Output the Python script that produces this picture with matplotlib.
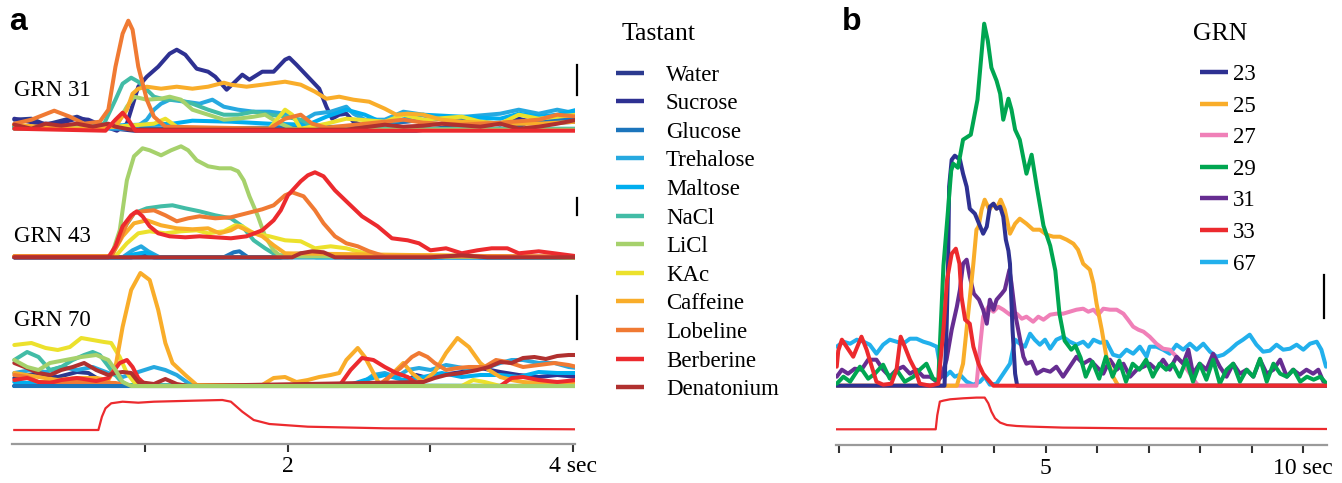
import numpy as np
import matplotlib
matplotlib.use("Agg")
import matplotlib.pyplot as plt
from matplotlib.lines import Line2D

plt.rcParams['font.family'] = ['Liberation Serif', 'DejaVu Serif']

# ---------------- Panel a data ----------------
tastants = ['Water', 'Sucrose', 'Glucose', 'Trehalose', 'Maltose', 'NaCl', 'LiCl',
            'KAc', 'Caffeine', 'Lobeline', 'Berberine', 'Denatonium']
tastant_colors = ['#2b3a8f', '#2e3192', '#1c75bc', '#26a9e0', '#00aeef', '#42bca6',
                  '#a6d16c', '#ece12c', '#f9ad2a', '#f07a33', '#ec2a2e', '#b0302f']
grn_a_labels = ['GRN 31', 'GRN 43', 'GRN 70']
scale_a = [30, 17, 43]          # scale-bar length (response units) per GRN

# responses: (time s, response a.u.)
grn31 = {
    'Water': ([0.08, 0.20, 0.30, 0.52, 0.66, 0.79, 0.92, 2.90, 3.22, 3.49, 3.62, 3.76, 3.89, 4.03],
              [11, 12, 6, 14, 6, 2, 0, 0, 5, 7, 4, 14, 9, 11]),
    'Sucrose': ([0.08, 0.25, 0.385, 0.52, 0.60, 0.68, 0.80, 0.87, 0.95, 1.01, 1.09, 1.17, 1.22, 1.28, 1.36,
                 1.44, 1.49, 1.57, 1.63, 1.68, 1.73, 1.82, 1.90, 1.98, 2.01, 2.06, 2.14, 2.22, 2.27, 2.31,
                 2.36, 2.41, 2.46, 2.54, 2.68, 2.95, 3.08, 3.22, 3.49, 3.62, 3.76, 4.03],
                [12, 7, 7, 12, 11, 6, 0, 7, 44, 54, 64, 77, 81, 76, 62, 59, 54, 41, 49, 56, 51, 59, 59, 71,
                 73, 66, 54, 42, 24, 12, 16, 17, 9, 4, 7, 11, 14, 11, 6, 12, 7, 9]),
    'Glucose': ([0.08, 1.33, 2.41, 2.68, 2.81, 3.08, 3.22, 3.49, 3.76, 4.03],
                [4, 2, 4, 6, 9, 12, 11, 7, 9, 12]),
    'Trehalose': ([0.08, 0.79, 0.92, 1.01, 1.06, 1.11, 1.17, 1.28, 1.38, 1.47, 1.55, 1.65, 1.76, 1.87, 1.98,
                   2.09, 2.19, 2.30, 2.41, 2.46, 2.54, 2.68, 2.81, 2.95, 3.08, 3.49, 3.62, 3.76, 3.89, 4.03],
                  [4, 2, 2, 11, 21, 27, 31, 29, 27, 31, 24, 21, 19, 19, 17, 9, 17, 19, 24, 17, 11, 11, 19, 16,
                   12, 17, 21, 17, 21, 17]),
    'Maltose': ([0.08, 1.19, 1.33, 1.60, 1.87, 2.14, 2.27, 2.41, 2.54, 2.68, 2.95, 3.22, 3.49, 3.62, 3.76,
                 3.89, 4.03],
                [2, 7, 10, 9, 7, 6, 14, 21, 16, 7, 16, 14, 12, 17, 14, 16, 21]),
    'NaCl': ([0.08, 0.25, 0.52, 0.71, 0.79, 0.84, 0.90, 0.95, 1.01, 1.06, 1.14, 1.22, 1.33, 1.44, 1.55,
              1.65, 1.76, 1.87, 1.98, 2.09, 2.19, 2.41, 4.03],
             [4, 2, 4, 7, 31, 47, 53, 49, 41, 34, 31, 31, 27, 21, 16, 16, 19, 16, 14, 11, 4, 2, 2]),
    'LiCl': ([0.08, 0.79, 0.87, 0.92, 1.01, 1.11, 1.17, 1.25, 1.33, 1.44, 1.55, 1.65, 1.76, 1.84, 1.92,
              2.03, 2.14, 4.03],
             [2, 4, 24, 34, 31, 32, 34, 31, 21, 16, 11, 12, 14, 16, 9, 2, 1, 1]),
    'KAc': ([0.08, 0.25, 0.52, 0.79, 1.06, 1.14, 1.22, 1.33, 1.87, 1.98, 2.03, 2.09, 2.27, 2.41, 2.68,
             2.81, 2.95, 3.22, 3.35, 3.49, 3.62, 3.76, 3.89, 4.03],
            [6, 2, 2, 4, 7, 12, 4, 2, 2, 21, 16, 2, 7, 12, 9, 16, 11, 14, 9, 7, 16, 12, 14, 16]),
    'Caffeine': ([0.08, 0.25, 0.52, 0.79, 0.87, 0.91, 0.95, 1.01, 1.11, 1.22, 1.33, 1.44, 1.55, 1.60, 1.71,
                  1.82, 1.98, 2.09, 2.19, 2.27, 2.36, 2.46, 2.57, 2.68, 2.76, 2.84, 2.95, 3.08, 3.22, 3.49,
                  3.76, 4.03],
                 [6, 4, 2, 4, 21, 37, 42, 44, 42, 44, 42, 44, 48, 46, 44, 46, 49, 46, 39, 32, 34, 31, 29, 22,
                  16, 17, 16, 11, 9, 7, 7, 9]),
    'Lobeline': ([0.08, 0.20, 0.36, 0.47, 0.57, 0.68, 0.74, 0.79, 0.84, 0.88, 0.91, 0.95, 1.01, 1.06, 1.14,
                  1.87, 1.98, 2.09, 2.17, 2.27, 2.68, 2.81, 2.95, 3.22, 3.49, 3.76, 3.89, 4.03],
                 [7, 11, 20, 14, 7, 9, 21, 64, 97, 110, 101, 64, 31, 14, 4, 2, 12, 16, 7, 3, 9, 11, 8, 6, 8,
                  11, 16, 14]),
    'Berberine': ([0.08, 0.72, 0.79, 0.84, 0.88, 0.93, 4.03],
                  [2, 0, 11, 18, 11, 0, 0]),
    'Denatonium': ([0.08, 0.20, 0.30, 0.41, 0.52, 0.63, 0.74, 0.79, 0.90, 2.41, 2.68, 2.81, 2.95, 3.08,
                    3.35, 3.49, 3.62, 3.76, 3.89, 4.03],
                   [6, 2, 7, 5, 7, 4, 7, 4, 1, 1, 6, 4, 5, 7, 4, 7, 2, 4, 7, 11]),
}

grn43 = {
    'Water': ([0.08, 1.95, 2.06, 2.14, 2.27, 2.41, 3.08, 3.22, 3.35, 4.03],
              [0, 0, 2, 4, 2, 0, 0, 2, 0, 0]),
    'Sucrose': ([0.08, 0.90, 0.98, 1.06, 1.95, 2.00, 2.14, 2.30, 2.50, 4.03],
                [0, 0, 2, 0, 0, 3, 4, 2, 0, 0]),
    'Glucose': ([0.08, 1.55, 1.62, 1.66, 1.72, 4.03],
                [0, 0, 5, 6, 0, 0]),
    'Trehalose': ([0.08, 0.84, 0.91, 0.97, 1.02, 1.10, 4.03],
                  [0, 0, 7, 11, 6, 0, 0]),
    'Maltose': ([0.08, 0.84, 0.92, 1.00, 1.08, 2.00, 2.10, 2.20, 4.03],
                [0, 0, 3, 5, 0, 0, 2, 0, 0]),
    'NaCl': ([0.08, 0.76, 0.84, 0.92, 1.01, 1.11, 1.19, 1.28, 1.38, 1.49, 1.60, 1.68, 1.76, 1.84, 1.92, 4.03],
             [1, 1, 27, 44, 49, 51, 52, 49, 46, 42, 39, 31, 17, 9, 2, 0]),
    'LiCl': ([0.08, 0.76, 0.82, 0.87, 0.92, 0.98, 1.03, 1.11, 1.18, 1.25, 1.30, 1.36, 1.44, 1.52, 1.60,
              1.65, 1.69, 1.73, 1.79, 1.84, 1.90, 1.95, 4.03],
             [1, 1, 27, 77, 101, 109, 107, 102, 107, 111, 107, 97, 91, 89, 89, 86, 77, 61, 41, 21, 7, 1, 0]),
    'KAc': ([0.08, 0.79, 0.87, 0.95, 1.03, 1.14, 1.25, 1.36, 1.44, 1.55, 1.63, 1.68, 1.76, 1.87, 1.98,
             2.09, 2.19, 2.30, 2.41, 2.54, 2.68, 2.95, 3.49, 4.03],
            [1, 1, 14, 24, 26, 24, 26, 27, 24, 26, 32, 31, 24, 21, 17, 16, 9, 11, 9, 4, 1, 2, 1, 0]),
    'Caffeine': ([0.08, 0.76, 0.84, 0.92, 1.01, 1.11, 1.22, 1.33, 1.44, 1.52, 1.60, 1.65, 1.73, 1.82, 1.90,
                  1.98, 4.03],
                 [1, 1, 21, 34, 37, 32, 29, 28, 29, 24, 27, 31, 26, 21, 12, 4, 0]),
    'Lobeline': ([0.08, 0.76, 0.82, 0.87, 0.92, 0.98, 1.06, 1.14, 1.22, 1.30, 1.38, 1.49, 1.60, 1.71, 1.82,
                  1.90, 1.98, 2.03, 2.11, 2.19, 2.25, 2.33, 2.41, 2.49, 2.57, 2.68, 4.03],
                 [1, 1, 17, 34, 44, 46, 47, 42, 36, 39, 41, 39, 40, 44, 48, 52, 62, 65, 61, 47, 34, 21, 14,
                  11, 6, 1, 1]),
    'Berberine': ([0.08, 0.74, 0.79, 0.84, 0.90, 0.94, 0.98, 1.03, 1.09, 1.17, 1.28, 1.38, 1.49, 1.60,
                   1.71, 1.82, 1.90, 1.95, 2.00, 2.09, 2.14, 2.19, 2.25, 2.33, 2.41, 2.52, 2.63, 2.73, 2.84,
                   2.92, 3.00, 3.11, 3.22, 3.33, 3.43, 3.54, 3.62, 3.76, 3.87, 4.03],
                  [0, 0, 11, 31, 42, 46, 41, 31, 24, 21, 20, 21, 20, 19, 21, 27, 37, 47, 62, 76, 82, 85, 81,
                   67, 56, 41, 31, 19, 17, 14, 7, 9, 4, 7, 9, 9, 4, 6, 4, 1]),
    'Denatonium': ([0.08, 2.03, 2.09, 2.17, 2.25, 2.33, 3.00, 3.22, 3.40, 4.03],
                   [0, 0, 4, 6, 5, 0, 0, 2, 0, 0]),
}

grn70 = {
    'Water': ([0.08, 0.25, 0.385, 0.52, 0.60, 0.68, 0.76, 4.03],
              [8, 13, 9, 14, 13, 6, 0, 0]),
    'Sucrose': ([0.08, 2.76, 2.81, 2.90, 2.98, 3.08, 3.22, 3.35, 3.49, 3.62, 3.76, 3.89, 4.03],
                [0, 0, 3, 11, 8, 11, 14, 18, 14, 11, 9, 11, 9]),
    'Glucose': ([0.08, 4.03], [0, 0]),
    'Trehalose': ([0.08, 0.20, 0.30, 0.41, 0.52, 0.63, 0.74, 0.84, 0.95, 1.06, 1.14, 1.22, 1.30, 1.38,
                   2.41, 2.52, 2.60, 2.68, 2.76, 2.84, 2.92, 3.00, 3.11, 3.19, 3.30, 3.41, 3.49, 3.57, 3.65,
                   3.76, 3.87, 3.97, 4.03],
                  [13, 16, 14, 19, 16, 19, 13, 9, 14, 19, 16, 11, 3, 0, 0, 3, 11, 13, 9, 16, 18, 16, 21, 19,
                   16, 19, 23, 26, 26, 23, 23, 19, 18]),
    'Maltose': ([0.08, 0.30, 0.60, 0.90, 2.41, 2.54, 2.68, 2.81, 2.95, 3.08, 3.22, 3.35, 3.49, 3.62, 3.76,
                 3.89, 4.03],
                [4, 2, 3, 0, 0, 6, 11, 6, 9, 13, 9, 11, 11, 9, 14, 13, 13]),
    'NaCl': ([0.08, 0.17, 0.25, 0.33, 0.41, 0.49, 0.57, 0.63, 0.68, 0.76, 0.82, 0.87, 4.03],
             [26, 34, 29, 16, 19, 26, 31, 34, 31, 16, 6, 1, 0]),
    'LiCl': ([0.08, 0.17, 0.25, 0.33, 0.44, 0.55, 0.655, 0.74, 0.79, 0.84, 0.90, 4.03],
             [26, 19, 16, 23, 26, 29, 31, 26, 16, 4, 0, 0]),
    'KAc': ([0.08, 0.20, 0.30, 0.385, 0.47, 0.55, 0.63, 0.71, 0.76, 0.82, 0.87, 0.92, 0.98, 3.22, 3.30,
             3.38, 3.49, 4.03],
            [41, 43, 38, 36, 39, 48, 46, 44, 43, 29, 13, 4, 0, 0, 6, 4, 0, 0]),
    'Caffeine': ([0.08, 0.25, 0.385, 0.52, 0.655, 0.74, 0.79, 0.84, 0.90, 0.965, 1.03, 1.09, 1.14, 1.19,
                  1.28, 1.36, 1.82, 1.90, 1.98, 2.06, 2.14, 2.22, 2.30, 2.36, 2.41, 2.49, 2.54, 2.60, 2.65,
                  2.76, 2.81, 2.87, 2.95, 3.03, 3.11, 3.19, 3.27, 3.35, 3.41, 3.49, 3.57, 3.65, 3.76, 4.03],
                 [13, 9, 6, 8, 8, 6, 19, 59, 96, 113, 106, 76, 43, 23, 11, 1, 1, 8, 9, 4, 6, 9, 11, 13, 26,
                  38, 29, 13, 0, 16, 23, 13, 4, 14, 33, 48, 39, 23, 16, 9, 6, 4, 3, 3]),
    'Lobeline': ([0.08, 0.17, 0.25, 0.52, 0.79, 0.90, 2.63, 2.71, 2.79, 2.87, 2.92, 2.98, 3.03, 3.11, 3.19,
                  3.27, 3.38, 3.46, 3.54, 3.65, 3.76, 3.87, 3.97, 4.03],
                 [11, 9, 4, 4, 3, 0, 0, 9, 18, 29, 33, 29, 23, 16, 18, 19, 19, 26, 24, 19, 21, 23, 21, 19]),
    'Berberine': ([0.08, 0.17, 0.25, 0.33, 0.41, 0.52, 0.655, 0.74, 0.82, 0.87, 0.91, 0.95, 1.01, 2.36,
                   2.44, 2.52, 2.60, 2.68, 2.76, 2.84, 2.90, 2.95, 3.49, 3.57, 3.65, 3.76, 3.89, 4.03],
                  [6, 8, 4, 3, 6, 8, 5, 8, 23, 26, 19, 8, 0, 0, 16, 28, 26, 19, 13, 9, 3, 0, 0, 8, 9, 6, 4, 6]),
    'Denatonium': ([0.08, 0.17, 0.25, 0.33, 0.41, 0.49, 0.57, 0.655, 0.74, 0.79, 0.84, 0.90, 0.95, 1.06,
                    1.14, 1.22, 1.30, 2.95, 3.03, 3.11, 3.22, 3.33, 3.41, 3.49, 3.57, 3.65, 3.73, 3.81,
                    3.89, 3.97, 4.03],
                   [23, 18, 13, 11, 16, 19, 23, 16, 11, 13, 14, 13, 4, 2, 7, 2, 0, 4, 8, 11, 13, 16, 19, 24,
                    23, 28, 29, 27, 30, 31, 31]),
}

# drawing order (last on top) for each GRN
order31 = ['Water', 'Sucrose', 'Glucose', 'Trehalose', 'Maltose', 'NaCl', 'LiCl', 'KAc', 'Caffeine',
           'Lobeline', 'Denatonium', 'Berberine']
order43 = list(tastants)
order70 = ['Water', 'Sucrose', 'Trehalose', 'Maltose', 'NaCl', 'KAc', 'Caffeine', 'Lobeline',
           'Berberine', 'Denatonium', 'Glucose', 'LiCl']

stim_a_t = [0.08, 0.67, 0.695, 0.72, 0.76, 0.84, 0.95, 1.06, 1.33, 1.54, 1.60, 1.68, 1.76, 1.87, 2.00,
            2.14, 2.68, 4.03]
stim_a_v = [0, 0, 13.3, 21.7, 26.7, 28.3, 27.3, 28.3, 29.3, 30, 28.3, 18.3, 10, 6, 4.7, 3.3, 1.7, 0.7]

# ---------------- Panel b data ----------------
grn_b = ['23', '25', '27', '29', '31', '33', '67']
grn_b_colors = ['#2e3192', '#f9ad2a', '#f080b8', '#00a651', '#662d91', '#ec2a2e', '#22b0ec']
scale_b = 43

b23_t = [0.95, 3.04, 3.08, 3.11, 3.13, 3.18, 3.24, 3.34, 3.40, 3.47, 3.53, 3.63, 3.71, 3.79, 3.86, 3.92,
         3.99, 4.05, 4.12, 4.18, 4.23, 4.28, 4.31, 4.36, 4.41, 4.45, 10.45]
b23_v = [0, 0, 56, 122, 199, 226, 230, 226, 212, 199, 177, 172, 162, 152, 159, 179, 182, 177, 179, 169,
         146, 135, 122, 56, 12, 0, 0]
b25_t = [0.95, 3.28, 3.40, 3.50, 3.60, 3.66, 3.70, 3.76, 3.82, 3.91, 3.99, 4.05, 4.13, 4.21, 4.31, 4.41,
         4.50, 4.63, 4.76, 4.89, 5.02, 5.15, 5.28, 5.41, 5.54, 5.63, 5.73, 5.86, 5.93, 5.99, 6.09, 6.18,
         6.31, 6.41, 10.45]
b25_v = [0, 0, 22, 72, 122, 156, 159, 176, 186, 176, 182, 177, 186, 176, 152, 162, 167, 162, 156, 156,
         151, 149, 149, 146, 142, 136, 122, 116, 102, 82, 56, 29, 9, 0, 0]
b27_t = [0.95, 3.66, 3.73, 3.79, 3.89, 3.99, 4.08, 4.18, 4.31, 4.44, 4.54, 4.63, 4.76, 4.86, 4.96, 5.09,
         5.21, 5.34, 5.47, 5.60, 5.73, 5.83, 5.93, 6.02, 6.12, 6.25, 6.38, 6.51, 6.60, 6.70, 6.80, 6.90,
         7.02, 7.15, 7.28, 7.41, 7.54, 7.67, 7.80, 7.93, 7.99, 10.45]
b27_v = [0, 0, 39, 69, 79, 74, 79, 76, 71, 72, 67, 69, 64, 69, 66, 71, 72, 72, 74, 76, 77, 74, 76, 71,
         77, 76, 76, 72, 66, 59, 56, 54, 49, 42, 37, 36, 29, 22, 12, 2, 0, 0]
b29_t = [0.95, 1.08, 1.21, 1.40, 1.56, 1.69, 1.85, 1.98, 2.11, 2.27, 2.44, 2.56, 2.69, 2.82, 2.92, 3.02,
         3.10, 3.17, 3.21, 3.30, 3.40, 3.55, 3.68, 3.81, 3.88, 3.95, 4.05, 4.12, 4.18, 4.28, 4.34, 4.41,
         4.50, 4.63, 4.73, 4.83, 4.96, 5.09, 5.19, 5.27, 5.37, 5.50, 5.58, 5.68, 5.78, 5.91, 6.04, 6.17,
         6.30, 6.43, 6.56, 6.69, 6.82, 6.95, 7.08, 7.21, 7.34, 7.47, 7.60, 7.73, 7.86, 7.99, 8.12, 8.25,
         8.38, 8.51, 8.64, 8.77, 8.90, 9.03, 9.16, 9.29, 9.42, 9.55, 9.68, 9.81, 9.94, 10.07, 10.20,
         10.33, 10.45]
b29_v = [2, 9, 4, 19, 7, 12, 21, 7, 16, 4, 9, 16, 22, 7, 5, 120, 170, 215, 222, 218, 246, 251, 286, 362,
         345, 318, 305, 292, 266, 287, 276, 256, 246, 212, 231, 199, 160, 140, 115, 72, 45, 36, 40, 28, 9,
         24, 7, 29, 9, 25, 4, 22, 16, 26, 9, 22, 16, 22, 9, 26, 4, 22, 6, 26, 2, 16, 22, 4, 16, 9, 27, 4,
         22, 12, 9, 16, 4, 9, 6, 9, 2]
b31_t = [0.95, 1.05, 1.17, 1.30, 1.43, 1.56, 1.72, 1.85, 1.98, 2.11, 2.24, 2.37, 2.50, 2.63, 2.76, 2.89,
         2.98, 3.08, 3.18, 3.28, 3.34, 3.40, 3.47, 3.53, 3.61, 3.71, 3.79, 3.86, 3.92, 3.99, 4.05, 4.15,
         4.21, 4.30, 4.34, 4.41, 4.47, 4.57, 4.63, 4.73, 4.83, 4.96, 5.09, 5.21, 5.34, 5.47, 5.60, 5.73,
         5.86, 5.99, 6.12, 6.25, 6.38, 6.51, 6.64, 6.77, 6.90, 7.02, 7.15, 7.28, 7.41, 7.54, 7.67, 7.77,
         7.86, 7.99, 8.12, 8.25, 8.38, 8.51, 8.64, 8.77, 8.90, 9.03, 9.16, 9.29, 9.42, 9.55, 9.68, 9.80,
         9.93, 10.06, 10.19, 10.29, 10.39]
b31_v = [9, 16, 12, 17, 16, 26, 26, 16, 9, 16, 19, 12, 16, 9, 9, 4, 9, 26, 56, 79, 96, 122, 126, 109, 92,
         86, 76, 62, 86, 76, 86, 92, 96, 116, 102, 72, 56, 29, 22, 24, 12, 16, 14, 19, 9, 19, 29, 22, 26,
         19, 12, 26, 16, 22, 9, 16, 19, 22, 16, 26, 16, 29, 22, 36, 12, 22, 16, 32, 19, 9, 22, 12, 16, 9,
         26, 12, 16, 26, 9, 16, 11, 16, 12, 16, 4]
b33_t = [0.95, 0.98, 1.05, 1.14, 1.27, 1.43, 1.53, 1.63, 1.72, 1.85, 2.01, 2.11, 2.19, 2.27, 2.37, 2.47,
         2.56, 2.76, 2.92, 3.02, 3.09, 3.18, 3.26, 3.33, 3.37, 3.44, 3.53, 3.60, 3.70, 3.79, 3.92, 3.99,
         10.45]
b33_v = [19, 35, 46, 39, 29, 49, 36, 19, 4, 1, 2, 16, 49, 39, 26, 16, 2, 0, 2, 56, 106, 132, 137, 122,
         89, 66, 62, 39, 22, 12, 4, 0, 0]
b67_t = [0.95, 1.08, 1.21, 1.34, 1.47, 1.59, 1.72, 1.85, 1.98, 2.11, 2.24, 2.37, 2.50, 2.63, 2.76, 2.89,
         2.98, 3.05, 3.15, 3.24, 3.34, 3.47, 3.60, 3.73, 3.82, 3.92, 4.05, 4.18, 4.31, 4.41, 4.50, 4.60,
         4.70, 4.79, 4.89, 4.99, 5.09, 5.21, 5.34, 5.47, 5.60, 5.73, 5.83, 5.93, 6.06, 6.18, 6.31, 6.44,
         6.57, 6.70, 6.83, 6.96, 7.02, 7.15, 7.28, 7.41, 7.54, 7.67, 7.80, 7.93, 8.06, 8.19, 8.32, 8.45,
         8.58, 8.71, 8.83, 8.96, 9.09, 9.22, 9.35, 9.48, 9.61, 9.74, 9.87, 10.00, 10.13, 10.26, 10.35,
         10.44]
b67_v = [39, 44, 42, 46, 44, 41, 32, 41, 46, 44, 42, 47, 47, 44, 42, 39, 12, 9, 14, 9, 11, 4, 1, 4, 9, 1,
         2, 12, 22, 46, 42, 39, 52, 46, 41, 46, 37, 46, 49, 44, 41, 44, 39, 46, 43, 44, 31, 29, 36, 32, 39,
         29, 39, 39, 36, 32, 41, 36, 42, 36, 42, 34, 29, 31, 36, 42, 46, 51, 41, 34, 35, 41, 36, 37, 41,
         36, 42, 44, 36, 19]

stim_b_t = [0.95, 2.87, 2.90, 2.95, 3.02, 3.15, 3.40, 3.66, 3.82, 3.89, 3.95, 4.02, 4.12, 4.25, 4.44,
            4.70, 5.34, 6.64, 10.44]
stim_b_v = [0, 0, 14, 27.7, 28.7, 30, 31, 31.7, 31.7, 26, 17.7, 11, 6.7, 4.3, 3.3, 2.7, 1.7, 1, 0.3]

b_series = {'23': (b23_t, b23_v), '25': (b25_t, b25_v), '27': (b27_t, b27_v), '29': (b29_t, b29_v),
            '31': (b31_t, b31_v), '33': (b33_t, b33_v), '67': (b67_t, b67_v)}
order_b = ['67', '27', '31', '25', '23', '29', '33']

# ---------------- layout ----------------
W, H = 1342, 483
fig = plt.figure(figsize=(W / 100, H / 100), dpi=100)

LW = 2.9
STIM_COLOR = '#ec2a2e'

def style_time_axis(ax, spine_y, ticks, labels):
    for s in ['left', 'right', 'top']:
        ax.spines[s].set_visible(False)
    ax.spines['bottom'].set_position(('data', spine_y))
    ax.spines['bottom'].set_color('#9a9a9a')
    ax.spines['bottom'].set_linewidth(1.6)
    ax.set_yticks([])
    ax.set_xticks(ticks)
    ax.set_xticklabels(labels)
    ax.tick_params(axis='x', direction='out', length=6, width=1.5, color='#333333',
                   labelsize=17, pad=3)

# Panel a
ax_a = fig.add_axes([12 / W, 0, (575 - 12) / W, 1])
ax_a.set_xlim((12 - 2.9) / 142.5, (575 - 2.9) / 142.5)
ax_a.set_ylim(0, H)
base_a = [352.3, 225.7, 97.0]
label_y_a = [392, 246, 163]
bar_bottom_a = [35.7, 42.0, 47.0]
for g, (data, order) in enumerate([(grn31, order31), (grn43, order43), (grn70, order70)]):
    for name in order:
        t, v = data[name]
        assert len(t) == len(v), (g, name)
        ax_a.plot(t, base_a[g] + np.asarray(v, float), color=tastant_colors[tastants.index(name)],
                  lw=LW, solid_joinstyle='round', solid_capstyle='round')
    ax_a.text(0.078, label_y_a[g], grn_a_labels[g], fontsize=16.5, va='center', ha='left')
    y0 = base_a[g] + bar_bottom_a[g]
    ax_a.plot([4.03, 4.03], [y0, y0 + scale_a[g]], color='black', lw=1.6, clip_on=False)
assert len(stim_a_t) == len(stim_a_v)
ax_a.plot(stim_a_t, 53 + np.asarray(stim_a_v), color=STIM_COLOR, lw=1.6)
style_time_axis(ax_a, 39, [1, 2, 3, 4], ['', '2', '', '4 sec'])

# Panel b
ax_b = fig.add_axes([836 / W, 0, (1327 - 836) / W, 1])
ax_b.set_xlim(1 + (836 - 839.3) / 51.56, 1 + (1327 - 839.3) / 51.56)
ax_b.set_ylim(0, H)
base_b = 97.3
for name in order_b:
    t, v = b_series[name]
    assert len(t) == len(v), name
    ax_b.plot(t, base_b + np.asarray(v, float), color=grn_b_colors[grn_b.index(name)], lw=LW,
              solid_joinstyle='round', solid_capstyle='round')
assert len(stim_b_t) == len(stim_b_v)
ax_b.plot(stim_b_t, 53.7 + np.asarray(stim_b_v), color=STIM_COLOR, lw=1.6)
ax_b.plot([10.40, 10.40], [base_b + 67.7, base_b + 67.7 + scale_b], color='black', lw=1.6,
          clip_on=False)
style_time_axis(ax_b, 38, list(range(1, 11)),
                ['', '', '', '', '5', '', '', '', '', '10 sec'])

# Legends (titles as separate text)
h_a = [Line2D([], [], color=c, lw=3.2, solid_capstyle='butt') for c in tastant_colors]
fig.legend(h_a, tastants, loc='upper left', bbox_to_anchor=(616 / W, 1 - 64.5 / H),
           frameon=False, fontsize=16.5, borderaxespad=0, borderpad=0,
           handlelength=1.22, handletextpad=0.96, labelspacing=0.33)
fig.text(622 / W, 1 - 40 / H, 'Tastant', fontsize=18.5, va='baseline', ha='left')

h_b = [Line2D([], [], color=c, lw=3.2, solid_capstyle='butt') for c in grn_b_colors]
fig.legend(h_b, grn_b, loc='upper left', bbox_to_anchor=(1200 / W, 1 - 64 / H),
           frameon=False, fontsize=16.5, borderaxespad=0, borderpad=0,
           handlelength=1.22, handletextpad=0.22, labelspacing=0.46)
fig.text(1193 / W, 1 - 40.5 / H, 'GRN', fontsize=18.5, va='baseline', ha='left')

fig.text(9 / W, 1 - 30 / H, 'a', fontsize=23, fontweight='bold', family='Liberation Sans',
         va='baseline', ha='left')
fig.text(842 / W, 1 - 30 / H, 'b', fontsize=23, fontweight='bold', family='Liberation Sans',
         va='baseline', ha='left')

fig.savefig('out.png', dpi=100)
